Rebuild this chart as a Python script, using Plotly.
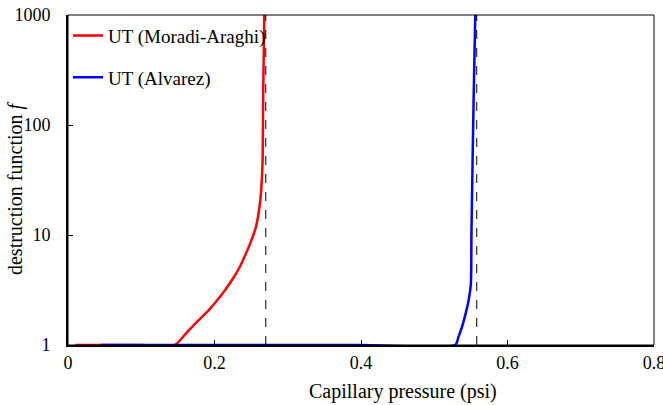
import plotly.graph_objects as go

# Data
red_p = [0.010, 0.050, 0.100, 0.146, 0.160, 0.175, 0.190, 0.202, 0.215, 0.225, 0.235, 0.243,
         0.250, 0.2567, 0.260, 0.2626, 0.264, 0.265, 0.2657, 0.2665, 0.268]
red_f = [1, 1, 1, 1, 1.25, 1.6, 2.0, 2.47, 3.2, 4.0, 5.2, 6.8,
         8.8, 11.9, 15.5, 20.8, 27, 36.4, 48, 200, 1000]

blue_p = [0.045, 0.200, 0.400, 0.5288, 0.533, 0.538, 0.543, 0.547, 0.550, 0.5508, 0.5537, 0.556]
blue_f = [1, 1, 1, 1, 1.18, 1.47, 1.95, 2.57, 3.6, 10.4, 168, 1000]

limit_p = [0.270, 0.558]
limit_f = [1, 1000]

x_ticks = [0, 0.2, 0.4, 0.6, 0.8]
x_ticklabels = ["0", "0.2", "0.4", "0.6", "0.8"]
y_ticks = [1, 10, 100, 1000]
y_ticklabels = ["1", "10", "100", "1000"]

x_title = "Capillary pressure (psi)"
y_title = "destruction function <i>f</i>"

font_family = "Liberation Serif"

fig = go.Figure()
fig.add_trace(go.Scatter(x=red_p, y=red_f, mode="lines", name="UT (Moradi-Araghi)",
                         line=dict(color="#ff0000", width=2.5, shape="spline", smoothing=0.6),
                         legendgroup="a"))
fig.add_trace(go.Scatter(x=blue_p, y=blue_f, mode="lines", name="UT (Alvarez)",
                         line=dict(color="#0000ff", width=2.5, shape="spline", smoothing=0.6),
                         legendgroup="b"))
for p in limit_p:
    fig.add_trace(go.Scatter(x=[p, p], y=limit_f, mode="lines", showlegend=False,
                             line=dict(color="black", width=1, dash="dash")))

fig.add_shape(type="rect", xref="paper", yref="paper", x0=0, y0=0, x1=1, y1=1,
              line=dict(color="black", width=1), layer="above")

fig.add_annotation(text=x_title, xref="paper", yref="paper", x=0.5717, y=-0.1394,
                   xanchor="center", yanchor="middle", showarrow=False,
                   font=dict(family=font_family, size=20, color="black"))
fig.add_annotation(text=y_title, xref="paper", yref="paper", x=-0.0887, y=0.4758,
                   xanchor="center", yanchor="middle", showarrow=False, textangle=-90,
                   font=dict(family=font_family, size=20, color="black"))

fig.update_layout(
    width=663, height=405,
    margin=dict(l=68, r=9, t=15, b=60, autoexpand=False),
    paper_bgcolor="white", plot_bgcolor="white",
    font=dict(family=font_family, size=18, color="black"),
    showlegend=True,
    legend=dict(x=0.0, y=0.995, xanchor="left", yanchor="top", bgcolor="rgba(0,0,0,0)",
                font=dict(size=19, family=font_family), tracegroupgap=14, traceorder="grouped"),
    xaxis=dict(range=[0, 0.8], tickvals=x_ticks, ticktext=x_ticklabels,
               ticks="inside", ticklen=5, tickcolor="black", ticklabeloverflow="allow",
               showline=True, linecolor="black", linewidth=2, showgrid=False, zeroline=False,
               automargin=False, tickfont=dict(size=18, family=font_family)),
    yaxis=dict(type="log", range=[0, 3], tickvals=y_ticks, ticktext=y_ticklabels,
               ticks="inside", ticklen=5, tickcolor="black", ticklabelstandoff=12,
               showline=True, linecolor="black", linewidth=2, showgrid=False, zeroline=False,
               automargin=False, tickfont=dict(size=18, family=font_family)),
)

fig.write_html("out.html", config={"displayModeBar": False},
               post_script="document.body.style.margin='0px';document.body.style.overflow='hidden';")
